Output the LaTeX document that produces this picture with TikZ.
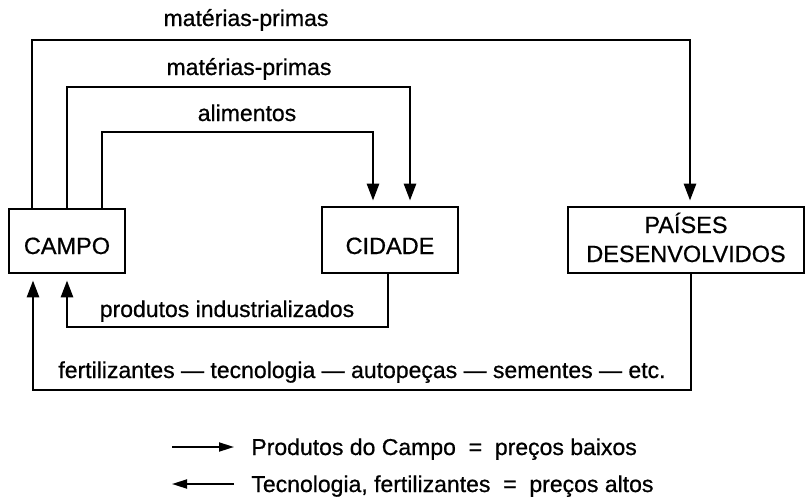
\documentclass[tikz,border=0pt]{standalone}
\usepackage{fontspec}
\setmainfont{Liberation Sans}[AutoFakeBold=0.7]
\usetikzlibrary{arrows.meta}
\begin{document}
\begin{tikzpicture}[x=1pt,y=-1pt,
  line width=2.8pt,
  box/.style={draw, line width=2.8pt, inner sep=0pt},
  boxtxt/.style={anchor=base, inner sep=0pt, font=\fontsize{23.5}{28}\selectfont\bfseries},
  lbl/.style={font=\fontsize{23}{26}\selectfont\bfseries, anchor=base, inner sep=0pt},
  flow/.style={-{Triangle[length=17pt,width=12pt]}, line width=2.8pt},
  leg/.style={line width=1.8pt},
]
\useasboundingbox (0,0) rectangle (807,499);
% boxes
\node[box, minimum width=116pt, minimum height=64pt] (campo) at (67,241) {};
\node[boxtxt] (campot) at (67,254) {CAMPO};
\node[box, minimum width=136pt, minimum height=66pt] (cidade) at (390,240) {};
\node[boxtxt] (cidadet) at (390,254) {CIDADE};
\node[box, minimum width=236pt, minimum height=66pt] (paises) at (686,240) {};
\node[boxtxt] (paisest1) at (686,233) {PAÍSES};
\node[boxtxt] (paisest2) at (686,262) {DESENVOLVIDOS};
% corners
\coordinate (a1) at (32,40); \coordinate (a2) at (690,40);
\coordinate (b1) at (67,87); \coordinate (b2) at (410,87);
\coordinate (c1) at (102,132); \coordinate (c2) at (373,132);
\coordinate (d1) at (388,327); \coordinate (d2) at (67,327);
\coordinate (e1) at (691,390); \coordinate (e2) at (33,390);
% connectors
\draw[flow, shorten >=5pt] (campo.north -| a1) -- (a1) -- (a2) -- (paises.north -| a2);
\draw[flow, shorten >=5pt] (campo.north -| b1) -- (b1) -- (b2) -- (cidade.north -| b2);
\draw[flow, shorten >=5pt] (campo.north -| c1) -- (c1) -- (c2) -- (cidade.north -| c2);
\draw[flow, shorten >=6pt] (cidade.south -| d1) -- (d1) -- (d2) -- (campo.south -| d2);
\draw[flow, shorten >=6pt] (paises.south -| e1) -- (e1) -- (e2) -- (campo.south -| e2);
% labels
\node[lbl] (l1) at (246,26) {matérias-primas};
\node[lbl] (l2) at (249,75) {matérias-primas};
\node[lbl] (l3) at (247,121) {alimentos};
\node[lbl] (l4) at (227,317) {produtos industrializados};
\node[lbl] (l5) at (362,378) {fertilizantes — tecnologia — autopeças — sementes — etc.};
% legend
\coordinate (p1) at (172,447); \coordinate (p2) at (234,447);
\coordinate (q1) at (172,484); \coordinate (q2) at (234,484);
\draw[leg, -{Triangle[length=15pt,width=9pt]}] (p1) -- (p2);
\draw[leg, -{Triangle[length=15pt,width=9pt]}] (q2) -- (q1);
\node[lbl, anchor=base west] (t1) at (250,455) {Produtos do Campo \ = \ preços baixos};
\node[lbl, anchor=base west] (t2) at (250,492) {Tecnologia, fertilizantes \ = \ preços altos};
\end{tikzpicture}
\end{document}
